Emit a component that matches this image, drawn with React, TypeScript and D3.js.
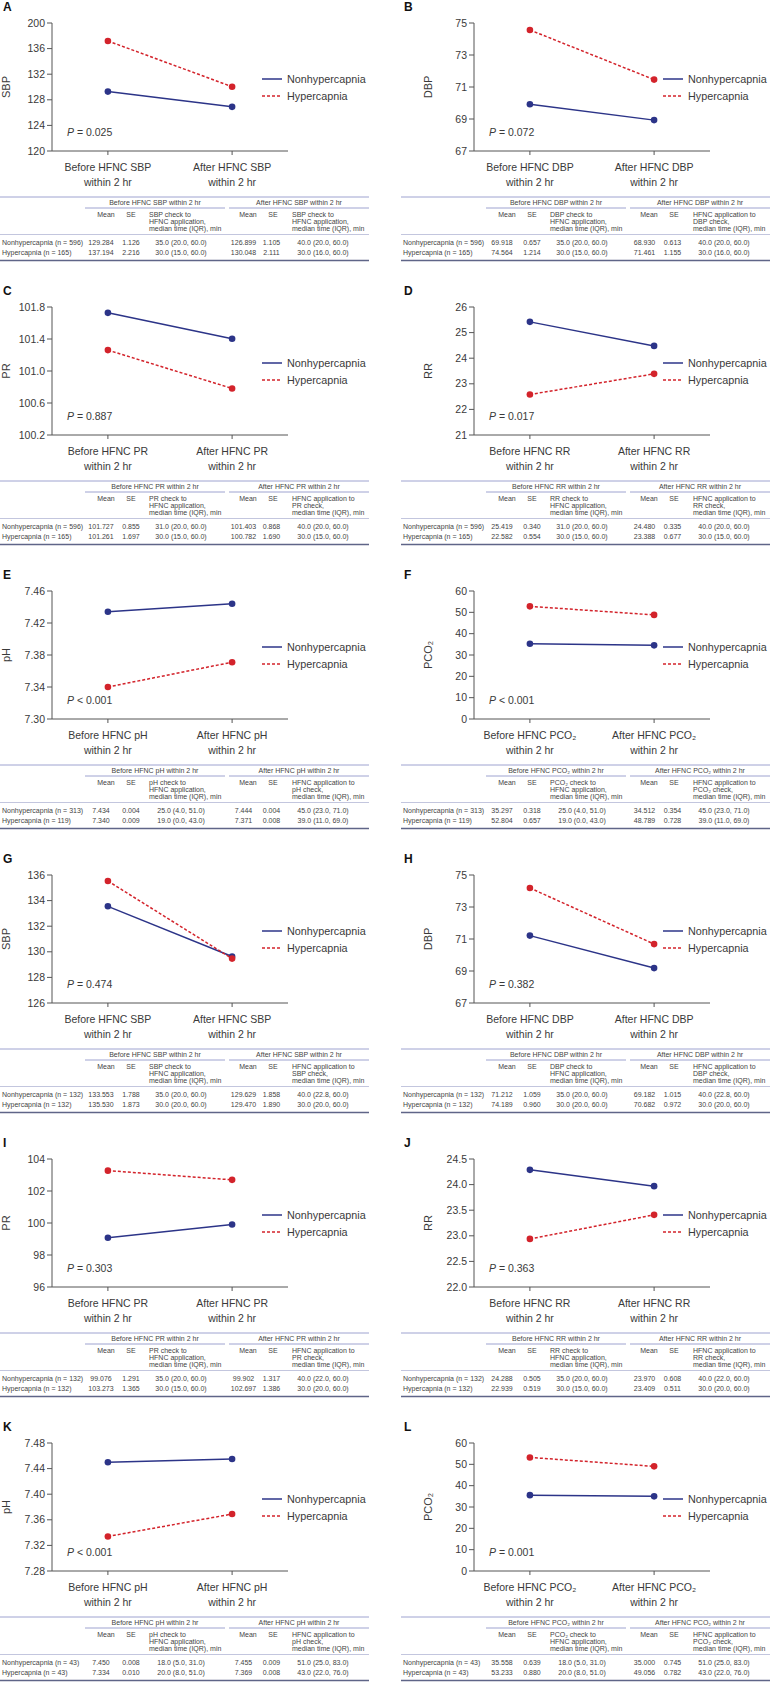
import * as d3 from "d3"

const W = 772
const H = 1682
const ROW_H = 284

const letters = ["A", "B", "C", "D", "E", "F", "G", "H", "I", "J", "K", "L"]
const measures = ["SBP", "DBP", "PR", "RR", "pH", "PCO₂", "SBP", "DBP", "PR", "RR", "pH", "PCO₂"]
const timepoints = ["Before", "After"]
const groups = ["Nonhypercapnia", "Hypercapnia"]

const groupN = [
  [596, 165], [596, 165], [596, 165], [596, 165], [313, 119], [313, 119],
  [132, 132], [132, 132], [132, 132], [132, 132], [43, 43], [43, 43],
]

// means: [before, after]
const nonMean = [
  [129.284, 126.899], [69.918, 68.93], [101.727, 101.403], [25.419, 24.48],
  [7.434, 7.444], [35.297, 34.512], [133.553, 129.629], [71.212, 69.182],
  [99.076, 99.902], [24.288, 23.97], [7.45, 7.455], [35.558, 35.0],
]
const hyperMean = [
  [137.194, 130.048], [74.564, 71.461], [101.261, 100.782], [22.582, 23.388],
  [7.34, 7.371], [52.804, 48.789], [135.53, 129.47], [74.189, 70.682],
  [103.273, 102.697], [22.939, 23.409], [7.334, 7.369], [53.233, 49.056],
]
const nonSE = [
  [1.126, 1.105], [0.657, 0.613], [0.855, 0.868], [0.34, 0.335],
  [0.004, 0.004], [0.318, 0.354], [1.788, 1.858], [1.059, 1.015],
  [1.291, 1.317], [0.505, 0.608], [0.008, 0.009], [0.639, 0.745],
]
const hyperSE = [
  [2.216, 2.111], [1.214, 1.155], [1.697, 1.69], [0.554, 0.677],
  [0.009, 0.008], [0.657, 0.728], [1.873, 1.89], [0.96, 0.972],
  [1.365, 1.386], [0.519, 0.511], [0.01, 0.008], [0.88, 0.782],
]
const nonTime = [
  ["35.0 (20.0, 60.0)", "40.0 (20.0, 60.0)"], ["35.0 (20.0, 60.0)", "40.0 (20.0, 60.0)"],
  ["31.0 (20.0, 60.0)", "40.0 (20.0, 60.0)"], ["31.0 (20.0, 60.0)", "40.0 (20.0, 60.0)"],
  ["25.0 (4.0, 51.0)", "45.0 (23.0, 71.0)"], ["25.0 (4.0, 51.0)", "45.0 (23.0, 71.0)"],
  ["35.0 (20.0, 60.0)", "40.0 (22.8, 60.0)"], ["35.0 (20.0, 60.0)", "40.0 (22.8, 60.0)"],
  ["35.0 (20.0, 60.0)", "40.0 (22.0, 60.0)"], ["35.0 (20.0, 60.0)", "40.0 (22.0, 60.0)"],
  ["18.0 (5.0, 31.0)", "51.0 (25.0, 83.0)"], ["18.0 (5.0, 31.0)", "51.0 (25.0, 83.0)"],
]
const hyperTime = [
  ["30.0 (15.0, 60.0)", "30.0 (16.0, 60.0)"], ["30.0 (15.0, 60.0)", "30.0 (16.0, 60.0)"],
  ["30.0 (15.0, 60.0)", "30.0 (15.0, 60.0)"], ["30.0 (15.0, 60.0)", "30.0 (15.0, 60.0)"],
  ["19.0 (0.0, 43.0)", "39.0 (11.0, 69.0)"], ["19.0 (0.0, 43.0)", "39.0 (11.0, 69.0)"],
  ["30.0 (20.0, 60.0)", "30.0 (20.0, 60.0)"], ["30.0 (20.0, 60.0)", "30.0 (20.0, 60.0)"],
  ["30.0 (15.0, 60.0)", "30.0 (20.0, 60.0)"], ["30.0 (15.0, 60.0)", "30.0 (20.0, 60.0)"],
  ["20.0 (8.0, 51.0)", "43.0 (22.0, 76.0)"], ["20.0 (8.0, 51.0)", "43.0 (22.0, 76.0)"],
]
const pText = [
  "= 0.025", "= 0.072", "= 0.887", "= 0.017", "< 0.001", "< 0.001",
  "= 0.474", "= 0.382", "= 0.303", "= 0.363", "< 0.001", "= 0.001",
]

// y axes
const yMin = [120, 67, 100.2, 21, 7.3, 0, 126, 67, 96, 22, 7.28, 0]
const yMax = [140, 75, 101.8, 26, 7.46, 60, 136, 75, 104, 24.5, 7.48, 60]
const yStep = [4, 2, 0.4, 1, 0.04, 10, 2, 2, 2, 0.5, 0.04, 10]
const yDecimals = [0, 0, 1, 0, 2, 0, 0, 0, 0, 1, 2, 0]
// panel A prints "200" on its top tick
const yTopLabel = ["200", null, null, null, null, null, null, null, null, null, null, null]

const NAVY = "#2c3488"
const RED = "#d3232b"
const CHART_FONT = "'Liberation Sans', Arial, sans-serif"
const TEXT = "#3a3a3a"
const TABLE_TEXT = "#444"

function Table({ i, tx, oy }: { i: number; tx: number; oy: number }) {
  const m = measures[i]
  const tY = oy + 197
  const beforeNote = [`${m} check to`, "HFNC application,", "median time (IQR), min"]
  const afterNote = i === 0 ? beforeNote : ["HFNC application to", `${m} check,`, "median time (IQR), min"]
  const fs = 7
  const rows = [
    { label: `${groups[0]} (n = ${groupN[i][0]})`, mean: nonMean[i], se: nonSE[i], time: nonTime[i] },
    { label: `${groups[1]} (n = ${groupN[i][1]})`, mean: hyperMean[i], se: hyperSE[i], time: hyperTime[i] },
  ]
  const colMean = [101, 243.5]
  const colSE = [131, 271.5]
  const colTime = [181, 323]
  return (
    <g fontFamily={CHART_FONT} fontSize={fs} fill={TABLE_TEXT}>
      <line x1={tx} x2={tx + 369} y1={tY} y2={tY} stroke="#9ea3d0" strokeWidth={1} />
      <text x={tx + 155} y={tY + 7.5} textAnchor="middle">{`Before HFNC ${m} within 2 hr`}</text>
      <text x={tx + 299} y={tY + 7.5} textAnchor="middle">{`After HFNC ${m} within 2 hr`}</text>
      <line x1={tx + 85} x2={tx + 225} y1={tY + 11} y2={tY + 11} stroke="#9ea3d0" strokeWidth={1} />
      <line x1={tx + 229} x2={tx + 369} y1={tY + 11} y2={tY + 11} stroke="#9ea3d0" strokeWidth={1} />
      {[0, 1].map((k) => (
        <g key={k}>
          <text x={tx + (k ? 248 : 106)} y={tY + 19.5} textAnchor="middle">Mean</text>
          <text x={tx + (k ? 273 : 131)} y={tY + 19.5} textAnchor="middle">SE</text>
          {(k ? afterNote : beforeNote).map((s, j) => (
            <text key={j} x={tx + (k ? 292 : 149)} y={tY + 19.5 + j * 7}>{s}</text>
          ))}
        </g>
      ))}
      <line x1={tx} x2={tx + 369} y1={tY + 37.5} y2={tY + 37.5} stroke="#b4b7d6" strokeWidth={0.8} />
      {rows.map((r, j) => (
        <g key={j}>
          <text x={tx + 2} y={oy + 244.5 + j * 10}>{r.label}</text>
          {[0, 1].map((k) => (
            <g key={k}>
              <text x={tx + colMean[k]} y={oy + 244.5 + j * 10} textAnchor="middle">{r.mean[k].toFixed(3)}</text>
              <text x={tx + colSE[k]} y={oy + 244.5 + j * 10} textAnchor="middle">{r.se[k].toFixed(3)}</text>
              <text x={tx + colTime[k]} y={oy + 244.5 + j * 10} textAnchor="middle">{r.time[k]}</text>
            </g>
          ))}
        </g>
      ))}
      <line x1={tx} x2={tx + 369} y1={oy + 260.5} y2={oy + 260.5} stroke="#5f6588" strokeWidth={1.5} />
    </g>
  )
}

function Panel({ i }: { i: number }) {
  const col = i % 2
  const row = Math.floor(i / 2)
  const oy = row * ROW_H
  const tx = col * 401
  const cx = col * 422
  const m = measures[i]

  const x = d3.scalePoint<string>().domain(timepoints).range([cx + 52, cx + 288]).padding(0.45)
  const y = d3.scaleLinear().domain([yMin[i], yMax[i]]).range([oy + 151, oy + 23])
  const nT = Math.round((yMax[i] - yMin[i]) / yStep[i])
  const ticks = d3.range(nT + 1).map((k) => yMin[i] + k * yStep[i])
  const line = d3.line<number>().x((_, k) => x(timepoints[k])!).y((d) => y(d))
  const x0 = cx + 52
  const x1 = cx + 288

  const series = [
    { vals: nonMean[i], color: NAVY, dash: undefined },
    { vals: hyperMean[i], color: RED, dash: "3,2" },
  ]

  return (
    <g>
      <text x={tx + 3} y={oy + 11} fontFamily={CHART_FONT} fontWeight="bold" fontSize={12} fill="#111">
        {letters[i]}
      </text>
      <g fontFamily={CHART_FONT} fill={TEXT}>
        {/* y axis */}
        <line x1={x0} x2={x0} y1={y.range()[0]} y2={y.range()[1]} stroke="#555" strokeWidth={1} />
        {ticks.map((t, k) => (
          <g key={k}>
            <line x1={x0 - 5} x2={x0} y1={y(t)} y2={y(t)} stroke="#555" strokeWidth={1} />
            <text x={x0 - 7} y={y(t)} dy="0.35em" textAnchor="end" fontSize={10.5}>
              {k === nT && yTopLabel[i] ? yTopLabel[i] : t.toFixed(yDecimals[i])}
            </text>
          </g>
        ))}
        <text
          transform={`translate(${cx + 10},${(y.range()[0] + y.range()[1]) / 2}) rotate(-90)`}
          textAnchor="middle"
          fontSize={11}
        >
          {m}
        </text>
        {/* x axis */}
        <line x1={x0} x2={x1} y1={y.range()[0]} y2={y.range()[0]} stroke="#555" strokeWidth={1} />
        {timepoints.map((tp) => (
          <g key={tp}>
            <line x1={x(tp)} x2={x(tp)} y1={y.range()[0]} y2={y.range()[0] + 4} stroke="#555" strokeWidth={1} />
            <text x={x(tp)} y={oy + 171} textAnchor="middle" fontSize={10.5}>{`${tp} HFNC ${m}`}</text>
            <text x={x(tp)} y={oy + 186} textAnchor="middle" fontSize={10.5}>within 2 hr</text>
          </g>
        ))}
        {/* lines */}
        {series.map((s, k) => (
          <g key={k}>
            <path d={line(s.vals) ?? ""} fill="none" stroke={s.color} strokeWidth={1.5} strokeDasharray={s.dash} />
            {s.vals.map((v, j) => (
              <circle key={j} cx={x(timepoints[j])} cy={y(v)} r={3.3} fill={s.color} />
            ))}
          </g>
        ))}
        <text x={cx + 67} y={oy + 136} fontSize={10.5}>
          <tspan fontStyle="italic">P</tspan>
          {` ${pText[i]}`}
        </text>
        {/* legend */}
        {series.map((s, k) => (
          <g key={k}>
            <line
              x1={tx + 262}
              x2={tx + 282}
              y1={oy + 79 + k * 17}
              y2={oy + 79 + k * 17}
              stroke={s.color}
              strokeWidth={1.5}
              strokeDasharray={s.dash}
            />
            <text x={tx + 287} y={oy + 79 + k * 17} dy="0.35em" fontSize={10.8}>{groups[k]}</text>
          </g>
        ))}
      </g>
      <Table i={i} tx={tx} oy={oy} />
    </g>
  )
}

export default function App() {
  return (
    <svg
      width={W}
      height={H}
      viewBox={`0 0 ${W} ${H}`}
      style={{ position: "absolute", left: 0, top: 0, background: "#fff" }}
    >
      <rect width={W} height={H} fill="#fff" />
      {letters.map((_, i) => (
        <Panel key={i} i={i} />
      ))}
    </svg>
  )
}
